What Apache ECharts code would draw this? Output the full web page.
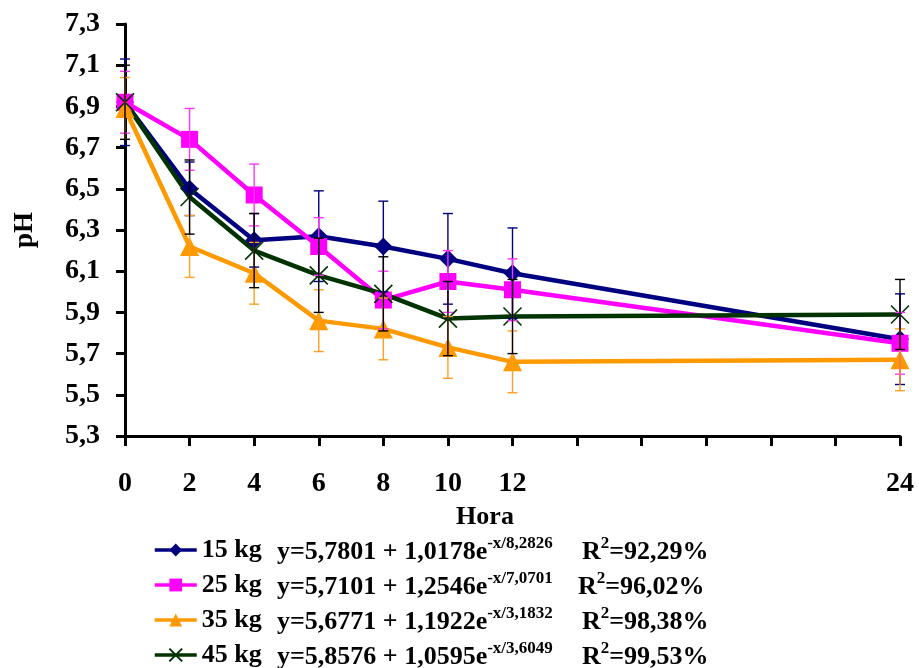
<!DOCTYPE html>
<html>
<head>
<meta charset="utf-8">
<script src="https://cdn.jsdelivr.net/npm/echarts@6/dist/echarts.min.js"></script>
<style>
  html, body { margin: 0; padding: 0; background: #fff; }
  #chart { width: 919px; height: 668px; }
</style>
</head>
<body>
<div id="chart"></div>
<script>
// Sampling times (h) and mean pH per carcass weight class
const hours = [0, 2, 4, 6, 8, 10, 12, 24];
const xTickLabels = [0, 2, 4, 6, 8, 10, 12, 24];
const seriesNames = ['15 kg', '25 kg', '35 kg', '45 kg'];

const ph15 = [6.92, 6.50, 6.25, 6.27, 6.22, 6.16, 6.09, 5.77];
const ph25 = [6.92, 6.74, 6.47, 6.22, 5.96, 6.05, 6.01, 5.75];
const ph35 = [6.89, 6.22, 6.09, 5.86, 5.82, 5.73, 5.66, 5.67];
const ph45 = [6.92, 6.46, 6.20, 6.08, 5.99, 5.87, 5.88, 5.89];

// Standard deviations (error bar half-lengths)
const sd15 = [0.21, 0.13, 0.13, 0.22, 0.22, 0.22, 0.22, 0.22];
const sd25 = [0.15, 0.15, 0.15, 0.14, 0.14, 0.15, 0.15, 0.15];
const sd35 = [0.15, 0.15, 0.15, 0.15, 0.15, 0.15, 0.15, 0.15];
const sd45 = [0.18, 0.18, 0.18, 0.18, 0.18, 0.18, 0.18, 0.17];

// Fitted models: y = a + b·e^(-x/c), with R²
const fitMain = ['y=5,7801 + 1,0178e', 'y=5,7101 + 1,2546e', 'y=5,6771 + 1,1922e', 'y=5,8576 + 1,0595e'];
const fitExp = ['-x/8,2826', '-x/7,0701', '-x/3,1832', '-x/3,6049'];
const fitR2 = ['=92,29%', '=96,02%', '=98,38%', '=99,53%'];

const FONT = '"Liberation Serif", "Times New Roman", serif';
const colors = ['#000080', '#FF00FF', '#FF9900', '#003300'];
const barColors = ['#000080', '#FF33FF', '#FFA020', '#000000'];
const symbols = [
  'diamond',
  'rect',
  'triangle',
  'path://M0,0L10,10M10,0L0,10'
];
const symbolSizes = [18, 17, 19, 18];
const means = [ph15, ph25, ph35, ph45];
const sds = [sd15, sd25, sd35, sd45];

const lineSeries = means.map((vals, i) => ({
  name: seriesNames[i],
  type: 'line',
  data: hours.map((h, k) => [h, vals[k]]),
  symbol: symbols[i],
  symbolSize: symbolSizes[i],
  lineStyle: { color: colors[i], width: 4.5 },
  itemStyle: i === 3
    ? { color: colors[i], borderColor: colors[i], borderWidth: 1.6 }
    : { color: colors[i], borderWidth: 0 },
  z: 3,
  animation: false
}));

const errorSeries = means.map((vals, i) => ({
  name: seriesNames[i] + ' dp',
  type: 'custom',
  data: hours.map((h, k) => [h, vals[k] - sds[i][k], vals[k] + sds[i][k]]),
  renderItem: function (params, api) {
    const x = api.value(0);
    const lo = api.coord([x, api.value(1)]);
    const hi = api.coord([x, api.value(2)]);
    const hw = 5;
    const style = { stroke: barColors[i], lineWidth: 1.4, fill: null };
    return {
      type: 'group',
      children: [
        { type: 'line', shape: { x1: lo[0], y1: lo[1], x2: hi[0], y2: hi[1] }, style: style },
        { type: 'line', shape: { x1: lo[0] - hw, y1: lo[1], x2: lo[0] + hw, y2: lo[1] }, style: style },
        { type: 'line', shape: { x1: hi[0] - hw, y1: hi[1], x2: hi[0] + hw, y2: hi[1] }, style: style }
      ]
    };
  },
  z: 4,
  silent: true,
  animation: false
}));

const rowTop = [532, 567, 602, 637];

const legends = seriesNames.map((n, i) => ({
  data: [n],
  left: 148,
  top: rowTop[i],
  itemWidth: 42,
  itemHeight: 16,
  itemGap: 6,
  selectedMode: false,
  lineStyle: { width: 3.5 },
  textStyle: { fontFamily: FONT, fontWeight: 'bold', fontSize: 26, color: '#000' }
}));

const richStyles = {
  b: { fontFamily: FONT, fontWeight: 'bold', fontSize: 26, lineHeight: 30, color: '#000', verticalAlign: 'bottom' },
  s: { fontFamily: FONT, fontWeight: 'bold', fontSize: 17, lineHeight: 30, color: '#000', verticalAlign: 'top', padding: [0, 0, 12, 0] }
};

const formulaText = [];
for (let i = 0; i < 4; i++) {
  formulaText.push({
    type: 'text',
    left: 277,
    top: rowTop[i] + 3,
    style: { text: '{b|' + fitMain[i] + '}{s|' + fitExp[i] + '}', rich: richStyles }
  });
  formulaText.push({
    type: 'text',
    left: i === 1 ? 578 : 582,
    top: rowTop[i] + 3,
    style: { text: '{b|R}{s|2}{b|' + fitR2[i] + '}', rich: richStyles }
  });
}

const option = {
  backgroundColor: '#fff',
  animation: false,
  textStyle: { fontFamily: FONT },
  grid: { left: 125, right: 19, top: 24, bottom: 232, containLabel: false },
  legend: legends,
  xAxis: {
    type: 'value',
    min: 0,
    max: 24,
    interval: 2,
    name: 'Hora',
    nameLocation: 'middle',
    nameGap: 68,
    nameTextStyle: { fontFamily: FONT, fontWeight: 'bold', fontSize: 26, color: '#000', padding: [0, 55, 0, 0] },
    axisLine: { lineStyle: { color: '#000', width: 3 } },
    axisTick: { show: true, length: 10, lineStyle: { color: '#000', width: 3 } },
    axisLabel: {
      margin: 34,
      fontFamily: FONT, fontWeight: 'bold', fontSize: 28, color: '#000',
      formatter: v => (xTickLabels.indexOf(Math.round(v)) >= 0 ? String(Math.round(v)) : '')
    },
    splitLine: { show: false }
  },
  yAxis: {
    type: 'value',
    min: 5.3,
    max: 7.3,
    interval: 0.2,
    name: 'pH',
    nameLocation: 'middle',
    nameRotate: 90,
    nameGap: 86,
    nameTextStyle: { fontFamily: FONT, fontWeight: 'bold', fontSize: 27, color: '#000' },
    axisLine: { show: true, lineStyle: { color: '#000', width: 3 } },
    axisTick: { show: true, length: 9, lineStyle: { color: '#000', width: 3 } },
    axisLabel: {
      margin: 25,
      fontFamily: FONT, fontWeight: 'bold', fontSize: 28, color: '#000',
      formatter: v => v.toFixed(1).replace('.', ',')
    },
    splitLine: { show: false }
  },
  graphic: formulaText,
  series: lineSeries.concat(errorSeries)
};

const chart = echarts.init(document.getElementById('chart'), null, { renderer: 'canvas' });
chart.setOption(option);
</script>
</body>
</html>
